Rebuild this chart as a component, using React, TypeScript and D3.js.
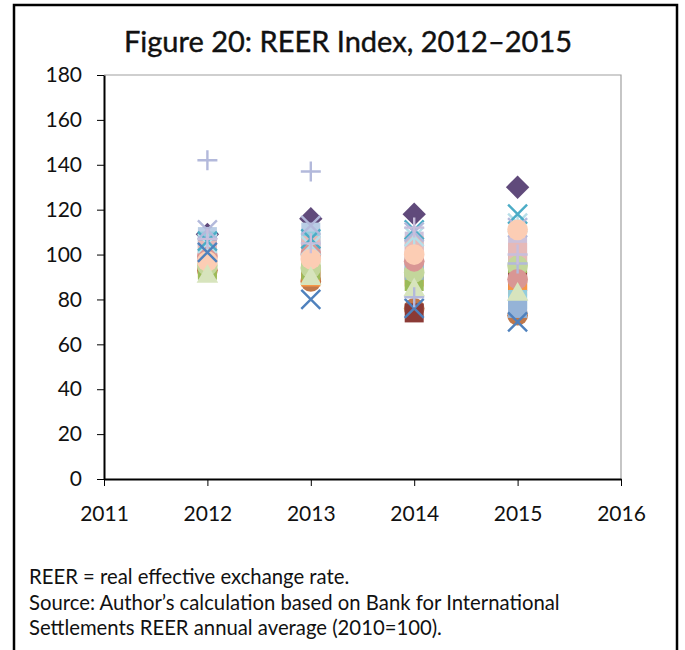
import React, { useEffect, useRef } from "react";
import * as d3 from "d3";

const years = [2012, 2013, 2014, 2015];
const xTicks = [2011, 2012, 2013, 2014, 2015, 2016];
const yTicks = [0, 20, 40, 60, 80, 100, 120, 140, 160, 180];

// one entry per series (REER index by year), drawn in this order
const seriesNames = [
  "S01", "S02", "S03", "S04", "S05", "S06", "S07", "S08", "S09", "S10",
  "S11", "S12", "S13", "S14", "S15", "S16", "S17", "S18", "S19", "S20",
];
const seriesMarkers = [
  "diamond", "circle", "square", "square", "square", "square", "square", "square", "square", "square",
  "circle", "circle", "star", "x", "x", "circle", "triangle", "x", "plus", "plus",
];
const seriesColors = [
  "#604A7B", "#C0784A", "#8B3A36", "#F79646", "#9BBB59", "#B9CDE5", "#93CDDD", "#95B3D7", "#CCC1DA", "#E6B9B8",
  "#C3D69B", "#D99694", "#B7DEE8", "#4BACC6", "#B3B9DB", "#FCCDB4", "#D7E4BD", "#4F81BD", "#B3B9DB", "#C8BEDC",
];
const seriesValues = [
  [109, 116, 118, 130],
  [93, 88, 76, 73],
  [96, 91, 74, 88],
  [94, 90, 90, 86],
  [93, 93, 88, 96],
  [108, 110, 97, 78],
  [106, 106, 95, 80],
  [104, 102, 93, 76],
  [100, 101, 106, 104],
  [102, 104, 104, 101],
  [95, 94, 92, 95],
  [99, 100, 97, 89],
  [105, 104, 108, 114],
  [106, 107, 111, 118],
  [111, 113, 110, 112],
  [97, 98, 100, 111],
  [91, 90, 85, 83],
  [101, 80, 76, 70],
  [142, 137, 81, 96],
  [107, 105, 112, 100],
];

const fontFamily = "Lato, 'Open Sans', sans-serif";

function markerPath(type: string, r: number) {
  const p = d3.path();
  if (type === "square") {
    p.rect(-r, -r, 2 * r, 2 * r);
  } else if (type === "diamond") {
    p.moveTo(0, -r * 1.3);
    p.lineTo(r * 1.3, 0);
    p.lineTo(0, r * 1.3);
    p.lineTo(-r * 1.3, 0);
    p.closePath();
  } else if (type === "triangle") {
    p.moveTo(0, -r * 1.2);
    p.lineTo(r * 1.2, r * 0.9);
    p.lineTo(-r * 1.2, r * 0.9);
    p.closePath();
  } else if (type === "circle") {
    p.arc(0, 0, r * 1.15, 0, 2 * Math.PI);
  } else if (type === "x") {
    p.moveTo(-r, -r);
    p.lineTo(r, r);
    p.moveTo(r, -r);
    p.lineTo(-r, r);
  } else if (type === "plus") {
    p.moveTo(-r, 0);
    p.lineTo(r, 0);
    p.moveTo(0, -r);
    p.lineTo(0, r);
  } else if (type === "star") {
    p.moveTo(-r, -r);
    p.lineTo(r, r);
    p.moveTo(r, -r);
    p.lineTo(-r, r);
    p.moveTo(0, -r);
    p.lineTo(0, r);
  }
  return p.toString();
}

export default function App() {
  const ref = useRef<SVGSVGElement>(null);

  useEffect(() => {
    const svg = d3.select(ref.current);
    svg.selectAll("*").remove();

    const width = 685;
    const height = 650;
    const margin = { top: 75, right: 64, bottom: 171, left: 104 };

    const x = d3
      .scaleLinear()
      .domain([2011, 2016])
      .range([margin.left, width - margin.right]);
    const y = d3
      .scaleLinear()
      .domain([0, 180])
      .range([height - margin.bottom, margin.top]);

    // outer frame
    svg
      .append("rect")
      .attr("x", 14)
      .attr("y", 5)
      .attr("width", 663)
      .attr("height", 660)
      .attr("fill", "white")
      .attr("stroke", "black")
      .attr("stroke-width", 2.5);

    svg
      .append("text")
      .attr("x", 348)
      .attr("y", 52)
      .attr("text-anchor", "middle")
      .attr("font-family", fontFamily)
      .attr("font-size", 29)
      .attr("fill", "#111")
      .attr("stroke", "#111")
      .attr("stroke-width", 0.4)
      .text("Figure 20: REER Index, 2012\u20132015");

    // plot area border (top/right grey)
    svg
      .append("path")
      .attr("d", `M${x(2011)},${y(180)}H${x(2016)}V${y(0)}`)
      .attr("fill", "none")
      .attr("stroke", "#a0a0a0")
      .attr("stroke-width", 1.2);

    const yAxis = (g: any) =>
      g
        .attr("transform", `translate(${x(2011)},0)`)
        .call(d3.axisLeft(y).tickValues(yTicks).tickSize(7).tickPadding(15).tickSizeOuter(0))
        .call((g: any) => g.select(".domain").attr("stroke-width", 2))
        .call((g: any) =>
          g
            .selectAll("text")
            .attr("font-family", fontFamily)
            .attr("font-size", 21)
            .attr("fill", "#111")
        );

    const xAxis = (g: any) =>
      g
        .attr("transform", `translate(0,${y(0)})`)
        .call(
          d3
            .axisBottom(x)
            .tickValues(xTicks)
            .tickFormat(d3.format("d"))
            .tickSize(7)
            .tickPadding(20)
            .tickSizeOuter(0)
        )
        .call((g: any) => g.select(".domain").attr("stroke-width", 2))
        .call((g: any) =>
          g
            .selectAll("text")
            .attr("font-family", fontFamily)
            .attr("font-size", 21)
            .attr("fill", "#111")
        );

    const plot = svg.append("g").attr("class", "plot-area");
    seriesNames.forEach((name, i) => {
      const type = seriesMarkers[i];
      const color = seriesColors[i];
      const stroked = type === "x" || type === "plus" || type === "star";
      plot
        .append("g")
        .attr("class", `series ${name}`)
        .selectAll("path")
        .data(seriesValues[i])
        .join("path")
        .attr("transform", (d: number, j: number) => `translate(${x(years[j])},${y(d)})`)
        .attr("d", markerPath(type, type === "plus" ? 10 : stroked ? 9.5 : type === "square" ? 9.5 : 9))
        .attr("fill", stroked ? "none" : color)
        .attr("stroke", stroked ? color : "none")
        .attr("stroke-width", stroked ? 2.4 : 0);
    });

    svg.append("g").call(yAxis);
    svg.append("g").call(xAxis);

    const notes = [
      "REER = real effective exchange rate.",
      "Source: Author\u2019s calculation based on Bank for International",
      "Settlements REER annual average (2010=100).",
    ];
    svg
      .append("g")
      .selectAll("text")
      .data(notes)
      .join("text")
      .attr("x", 29)
      .attr("y", (_d: string, i: number) => 584 + i * 25.5)
      .attr("font-family", fontFamily)
      .attr("font-size", 20.3)
      .attr("fill", "#111")
      .text((d: string) => d);
  }, []);

  return (
    <svg
      ref={ref}
      width={685}
      height={650}
      style={{ position: "absolute", left: 0, top: 0, background: "white" }}
    />
  );
}
